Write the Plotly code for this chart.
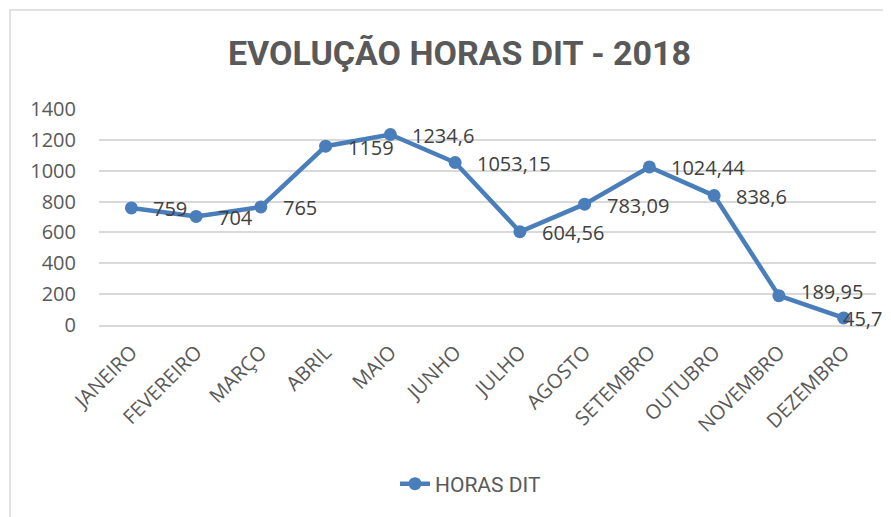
import plotly.graph_objects as go

months = ["JANEIRO", "FEVEREIRO", "MARÇO", "ABRIL", "MAIO", "JUNHO", "JULHO",
          "AGOSTO", "SETEMBRO", "OUTUBRO", "NOVEMBRO", "DEZEMBRO"]
horas = [759, 704, 765, 1159, 1234.6, 1053.15, 604.56, 783.09, 1024.44, 838.6, 189.95, 45.77]
labels = ["759", "704", "765", "1159", "1234,6", "1053,15", "604,56", "783,09",
          "1024,44", "838,6", "189,95", "45,77"]
yticks = [0, 200, 400, 600, 800, 1000, 1200, 1400]

LINE = "#4a7ebb"
TXT = "#595959"
FONT = "Open Sans, Liberation Sans, sans-serif"
NARROW = "Roboto, Liberation Sans, sans-serif"

# page body adds an 8px offset; layout below is in figure pixels
L, T, R, B = 91, 101, 23, 200
PW, PH = 891 - L - R, 517 - T - B

fig = go.Figure()
fig.add_trace(go.Scatter(
    x=months, y=horas, mode="lines+markers", name="HORAS DIT",
    line=dict(color=LINE, width=4.5),
    marker=dict(color=LINE, size=13),
    cliponaxis=False,
))

n = len(months)
for i, (m, v, t) in enumerate(zip(months, horas, labels)):
    last = i == n - 1
    fig.add_annotation(x=m, y=v, text=t, showarrow=False, xanchor="left",
                       yanchor="middle", xshift=-3 if last else 20,
                       yshift=-1 if last else (4 if i == n - 2 else -1),
                       font=dict(family=FONT, size=20, color="#404040"))

# chart border
fig.add_shape(type="rect", xref="paper", yref="paper",
              x0=(2 - L) / PW, x1=1.3, y0=-1.3, y1=(517 - B - 2) / PH,
              line=dict(color="#d9d9d9", width=1.5), fillcolor="rgba(0,0,0,0)",
              layer="below")

fig.update_layout(
    width=891, height=517,
    margin=dict(l=L, r=R, t=T, b=B),
    paper_bgcolor="white", plot_bgcolor="white",
    title=dict(text="<b>EVOLUÇÃO HORAS DIT - 2018</b>", x=451.5 / 891, xanchor="center",
               y=1 - 45 / 517, yanchor="middle",
               font=dict(family=NARROW, size=34, color=TXT)),
    showlegend=True,
    legend=dict(orientation="h", x=(387 - L) / PW, xanchor="left", y=(517 - B - 476) / PH,
                yanchor="middle", font=dict(family=NARROW, size=21, color=TXT),
                bgcolor="rgba(0,0,0,0)"),
    xaxis=dict(tickangle=-45, tickfont=dict(family=FONT, size=20, color=TXT),
               showgrid=False, showline=True, linecolor="#d9d9d9", linewidth=1.5,
               ticks="", range=[-0.5, 11.5], ticklabelstandoff=6),
    yaxis=dict(range=[0, 1400], tickvals=yticks, showgrid=True, gridcolor="#d9d9d9",
               gridwidth=1.5, zeroline=False, showline=False,
               tickfont=dict(family=FONT, size=20, color=TXT), ticklabelstandoff=22),
)

fig.write_html("out.html")
